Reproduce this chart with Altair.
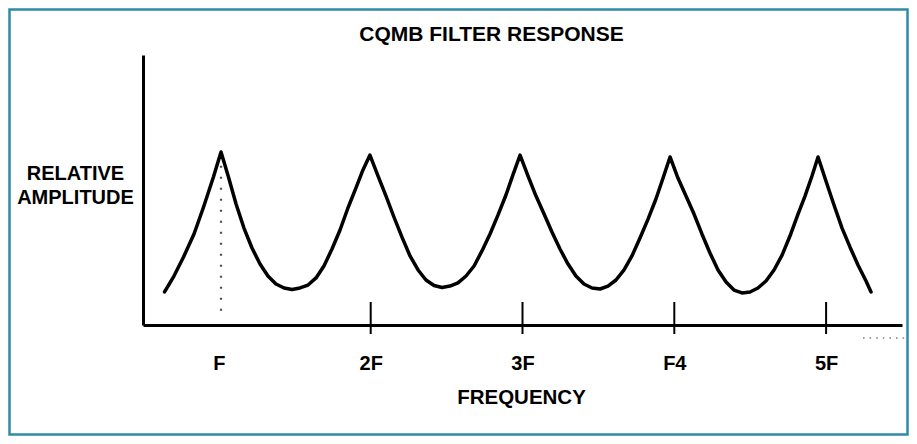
import json
import altair as alt
import pandas as pd

# ---- data ----
# curve: frequency (in units of F) and relative amplitude
freq = [0.642, 0.704, 0.767, 0.836, 0.899, 0.964, 1.014,
        1.063, 1.113, 1.165, 1.218, 1.271, 1.323, 1.376, 1.429, 1.482, 1.534,
        1.587, 1.640, 1.692, 1.745, 1.798, 1.850, 1.903, 1.949, 1.995,
        2.048, 2.101, 2.153, 2.206, 2.259, 2.312, 2.364, 2.417, 2.470, 2.522,
        2.575, 2.628, 2.681, 2.733, 2.786, 2.839, 2.891, 2.937, 2.984,
        3.036, 3.089, 3.142, 3.194, 3.247, 3.300, 3.352, 3.405, 3.458, 3.511,
        3.563, 3.616, 3.669, 3.721, 3.774, 3.827, 3.879, 3.926, 3.972,
        4.024, 4.077, 4.130, 4.182, 4.235, 4.288, 4.341, 4.393, 4.446, 4.499,
        4.551, 4.604, 4.657, 4.710, 4.762, 4.815, 4.861, 4.907, 4.947,
        4.999, 5.052, 5.105, 5.157, 5.210, 5.263, 5.296]
amplitude = [0.191, 0.283, 0.393, 0.526, 0.682, 0.855, 1.000,
             0.855, 0.699, 0.560, 0.445, 0.352, 0.283, 0.237, 0.214, 0.205, 0.214,
             0.231, 0.272, 0.341, 0.439, 0.549, 0.676, 0.792, 0.896, 0.982,
             0.861, 0.745, 0.624, 0.508, 0.399, 0.318, 0.260, 0.228, 0.217, 0.225,
             0.243, 0.283, 0.341, 0.428, 0.526, 0.636, 0.751, 0.867, 0.982,
             0.861, 0.745, 0.641, 0.537, 0.439, 0.352, 0.283, 0.237, 0.214, 0.208,
             0.225, 0.260, 0.318, 0.399, 0.503, 0.612, 0.728, 0.849, 0.971,
             0.849, 0.745, 0.641, 0.526, 0.416, 0.318, 0.248, 0.202, 0.185, 0.191,
             0.214, 0.254, 0.318, 0.404, 0.514, 0.641, 0.745, 0.861, 0.971,
             0.832, 0.693, 0.560, 0.451, 0.347, 0.254, 0.191]

tick_values = [1, 2, 3, 4, 5]
tick_labels = ["F", "2F", "3F", "F4", "5F"]
marked_ticks = [2, 3, 4, 5]          # harmonics with a tick through the axis
first_peak = [1.014]                 # dotted drop line under the first peak
first_peak_top = [0.92]
first_peak_bottom = [0.07]

title_text = "CQMB FILTER RESPONSE"
x_title = "FREQUENCY"
y_title = ["RELATIVE", "AMPLITUDE"]

FONT = "Liberation Sans"
X_DOMAIN = [0.5, 5.5]
Y_DOMAIN = [0, 1.56]

curve_df = pd.DataFrame({"freq": freq, "amp": amplitude})
ticks_df = pd.DataFrame({"freq": marked_ticks, "top": [0.133] * len(marked_ticks),
                         "bottom": [-0.052] * len(marked_ticks)})
drop_df = pd.DataFrame({"freq": first_peak, "top": first_peak_top, "bottom": first_peak_bottom})
tail_df = pd.DataFrame({"f1": [5.243], "f2": [5.545], "amp": [-0.075]})
one_df = pd.DataFrame({"t": [title_text]})

label_expr = "{}[indexof({}, datum.value)]".format(json.dumps(tick_labels), json.dumps(tick_values))

xscale = alt.Scale(domain=X_DOMAIN, nice=False, zero=False)
yscale = alt.Scale(domain=Y_DOMAIN, nice=False, zero=False)

x_axis = alt.Axis(values=tick_values, labelExpr=label_expr, ticks=False, grid=False,
                  domain=True, domainWidth=3, domainColor="black",
                  labelFont=FONT, labelFontSize=20, labelFontWeight="bold", labelColor="black",
                  labelPadding=28, labelFlush=False,
                  title=x_title, titleFont=FONT, titleFontSize=20.5, titleFontWeight="bold",
                  titleColor="black", titlePadding=14, titleX=378)
y_axis = alt.Axis(ticks=False, labels=False, grid=False, domain=True, domainWidth=3,
                  domainColor="black", title=y_title, titleAngle=0, titleX=-68, titleY=108,
                  titleAlign="center", titleBaseline="top", titleLineHeight=24,
                  titleFont=FONT, titleFontSize=20, titleFontWeight="bold", titleColor="black")

curve = alt.Chart(curve_df).mark_line(color="black", strokeWidth=3.5, interpolate="linear",
                                      strokeJoin="round", strokeCap="round").encode(
    x=alt.X("freq:Q", scale=xscale, axis=x_axis),
    y=alt.Y("amp:Q", scale=yscale, axis=y_axis),
)

ticks = alt.Chart(ticks_df).mark_rule(color="black", strokeWidth=2).encode(
    x=alt.X("freq:Q", scale=xscale),
    y=alt.Y("top:Q", scale=yscale),
    y2="bottom:Q",
)

drop = alt.Chart(drop_df).mark_rule(color="#5a4a40", strokeWidth=2.2, strokeDash=[2, 9]).encode(
    x=alt.X("freq:Q", scale=xscale),
    y=alt.Y("top:Q", scale=yscale),
    y2="bottom:Q",
)

tail = alt.Chart(tail_df).mark_rule(color="#8a8070", strokeWidth=1.6, strokeDash=[1.6, 5]).encode(
    x=alt.X("f1:Q", scale=xscale),
    x2="f2:Q",
    y=alt.Y("amp:Q", scale=yscale),
)

border = alt.Chart(one_df).mark_rect(filled=False, stroke="#2f8aa6", strokeWidth=2.5).encode(
    x=alt.value(-133.5), x2=alt.value(764.5), y=alt.value(-45.5), y2=alt.value(379.5),
)

title = alt.Chart(one_df).mark_text(font=FONT, fontSize=21, fontWeight="bold", color="black",
                                    align="center", baseline="alphabetic").encode(
    text="t:N", x=alt.value(348.5), y=alt.value(-14),
)

chart = alt.layer(border, drop, tail, ticks, curve, title).properties(
    width=759, height=270,
    autosize=alt.AutoSizeParams(type="none"),
    padding={"left": 135, "top": 47, "right": 7, "bottom": 111},
    background="white",
).configure_view(stroke=None)

chart.save("out.html", embed_options={"renderer": "svg", "actions": False})
